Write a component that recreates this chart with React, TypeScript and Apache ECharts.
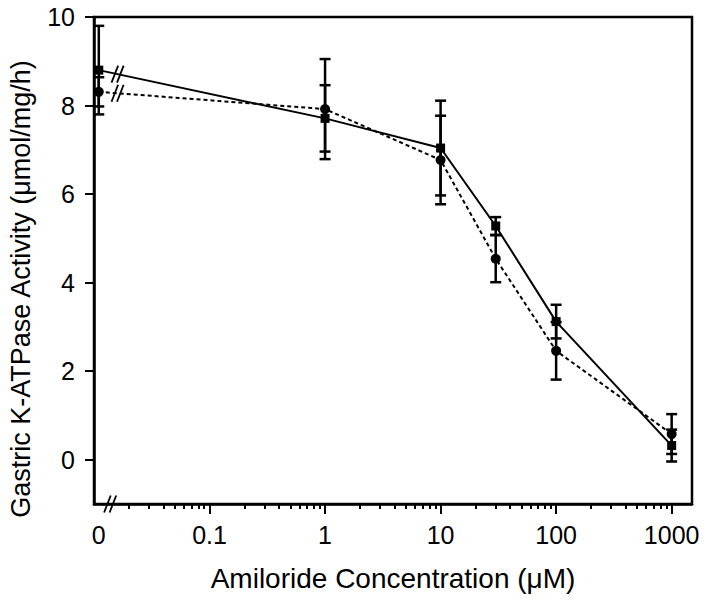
import React, { useEffect, useRef } from "react";
import * as echarts from "echarts";

// Amiloride concentration (µM); 0 is the control, drawn at ZERO_POS on the log axis
const CONC = [0, 1, 10, 30, 100, 1000];
const ZERO_POS = 0.011;
// Series drawn with squares and a solid line
const SQUARE_MEAN = [8.8, 7.71, 7.04, 5.28, 3.12, 0.32];
const SQUARE_ERR = [1.0, 0.75, 1.07, 0.2, 0.38, 0.36];
// Series drawn with circles and a dashed line
const CIRCLE_MEAN = [8.31, 7.92, 6.77, 4.54, 2.46, 0.58];
const CIRCLE_ERR = [0.33, 1.13, 1.0, 0.53, 0.65, 0.45];

const X_MIN = 0.01;
const X_MAX = 1500;
const Y_MIN = -1;
const Y_MAX = 10;
const X_LABELS = [ZERO_POS, 0.1, 1, 10, 100, 1000];
const X_MAJOR_TICKS = [0.1, 1, 10, 100, 1000];
const X_MINOR_TICKS = [
  0.02, 0.03, 0.04, 0.05, 0.06, 0.07, 0.08, 0.09,
  0.2, 0.3, 0.4, 0.5, 0.6, 0.7, 0.8, 0.9,
  2, 3, 4, 5, 6, 7, 8, 9,
  20, 30, 40, 50, 60, 70, 80, 90,
  200, 300, 400, 500, 600, 700, 800, 900,
];
const Y_TICKS = [0, 2, 4, 6, 8, 10];
const LINE_BREAK_X = 0.016;
const AXIS_BREAK_X = 0.0138;

const X_TITLE = "Amiloride Concentration (\u03bcM)";
const Y_TITLE = "Gastric K-ATPase Activity (\u03bcmol/mg/h)";

const FONT = "'Liberation Sans', Arial, sans-serif";
const BLACK = "#000";

const xPos = (c: number) => (c === 0 ? ZERO_POS : c);

function slashPair(cx: number, cy: number, lw: number) {
  const hw = 3.3;
  const hh = 8.5;
  const gap = 5.5;
  const style = { stroke: BLACK, lineWidth: lw };
  return [-gap / 2, gap / 2].map((d) => ({
    type: "line",
    shape: { x1: cx + d - hw, y1: cy + hh, x2: cx + d + hw, y2: cy - hh },
    style,
  }));
}

export default function App() {
  const ref = useRef<HTMLDivElement>(null);

  useEffect(() => {
    if (!ref.current) return;
    const chart = echarts.init(ref.current, null, { renderer: "svg" });

    const squareData = CONC.map((c, i) => [xPos(c), SQUARE_MEAN[i]]);
    const circleData = CONC.map((c, i) => [xPos(c), CIRCLE_MEAN[i]]);
    const squareErr = CONC.map((c, i) => [xPos(c), SQUARE_MEAN[i] - SQUARE_ERR[i], SQUARE_MEAN[i] + SQUARE_ERR[i]]);
    const circleErr = CONC.map((c, i) => [xPos(c), CIRCLE_MEAN[i] - CIRCLE_ERR[i], CIRCLE_MEAN[i] + CIRCLE_ERR[i]]);

    const errorRender = (params: any, api: any) => {
      const x = api.value(0);
      const lo = api.coord([x, api.value(1)]);
      const hi = api.coord([x, api.value(2)]);
      const hw = 5.5;
      const style = { stroke: BLACK, lineWidth: 2.5 };
      return {
        type: "group",
        children: [
          { type: "line", shape: { x1: lo[0], y1: lo[1], x2: hi[0], y2: hi[1] }, style },
          { type: "line", shape: { x1: lo[0] - hw, y1: lo[1], x2: lo[0] + hw, y2: lo[1] }, style },
          { type: "line", shape: { x1: hi[0] - hw, y1: hi[1], x2: hi[0] + hw, y2: hi[1] }, style },
        ],
      };
    };

    // break marks: 0 = solid line, 1 = dashed line, 2 = x axis
    const breakRender = (params: any, api: any) => {
      const kind = params.dataIndex;
      if (kind === 2) {
        const p = api.coord([AXIS_BREAK_X, Y_MIN]);
        return { type: "group", children: slashPair(p[0], p[1], 1.8) };
      }
      const means = kind === 0 ? SQUARE_MEAN : CIRCLE_MEAN;
      const p0 = api.coord([xPos(CONC[0]), means[0]]);
      const p1 = api.coord([xPos(CONC[1]), means[1]]);
      const pb = api.coord([LINE_BREAK_X, means[0]]);
      const y = p0[1] + ((pb[0] - p0[0]) / (p1[0] - p0[0])) * (p1[1] - p0[1]);
      return { type: "group", children: slashPair(pb[0], y, 1.8) };
    };

    const option: any = {
      animation: false,
      backgroundColor: "#fff",
      textStyle: { fontFamily: FONT },
      grid: {
        left: 94,
        right: 16,
        top: 17,
        bottom: 97,
        show: true,
        borderColor: BLACK,
        borderWidth: 2.5,
        backgroundColor: "transparent",
      },
      graphic: [
        {
          type: "text",
          x: 21,
          y: 289,
          rotation: Math.PI / 2,
          style: {
            text: Y_TITLE,
            fontSize: 27,
            fontFamily: FONT,
            fill: BLACK,
            align: "center",
            verticalAlign: "middle",
          },
        },
      ],
      xAxis: [
        {
          type: "log",
          logBase: 10,
          min: X_MIN,
          max: X_MAX,
          position: "bottom",
          name: X_TITLE,
          nameLocation: "middle",
          nameGap: 60,
          nameTextStyle: { fontSize: 28, color: BLACK, fontFamily: FONT },
          axisLine: { show: true, onZero: false, lineStyle: { color: BLACK, width: 2.5 } },
          axisTick: {
            show: true,
            length: 10,
            customValues: X_MAJOR_TICKS,
            lineStyle: { color: BLACK, width: 2 },
          },
          axisLabel: {
            show: true,
            customValues: X_LABELS,
            margin: 18,
            fontSize: 25,
            color: BLACK,
            fontFamily: FONT,
            formatter: (v: number) => (v < 0.05 ? "0" : String(v)),
          },
          splitLine: { show: false },
          minorTick: { show: false },
        },
        {
          type: "log",
          logBase: 10,
          min: X_MIN,
          max: X_MAX,
          position: "bottom",
          axisLine: { show: false, onZero: false },
          axisTick: {
            show: true,
            length: 5,
            customValues: X_MINOR_TICKS,
            lineStyle: { color: BLACK, width: 2 },
          },
          axisLabel: { show: false },
          splitLine: { show: false },
        },
      ],
      yAxis: {
        type: "value",
        min: Y_MIN,
        max: Y_MAX,
        axisLine: { show: true, onZero: false, lineStyle: { color: BLACK, width: 2.5 } },
        axisTick: {
          show: true,
          length: 9,
          customValues: Y_TICKS,
          lineStyle: { color: BLACK, width: 2 },
        },
        axisLabel: {
          show: true,
          customValues: Y_TICKS,
          margin: 19,
          fontSize: 25,
          color: BLACK,
          fontFamily: FONT,
        },
        splitLine: { show: false },
      },
      series: [
        {
          type: "custom",
          name: "square-err",
          xAxisIndex: 0,
          renderItem: errorRender,
          data: squareErr,
          encode: { x: 0, y: [1, 2] },
          z: 2,
          silent: true,
        },
        {
          type: "custom",
          name: "circle-err",
          xAxisIndex: 0,
          renderItem: errorRender,
          data: circleErr,
          encode: { x: 0, y: [1, 2] },
          z: 2,
          silent: true,
        },
        {
          type: "line",
          name: "circles",
          xAxisIndex: 0,
          data: circleData,
          symbol: "circle",
          symbolSize: 10,
          showSymbol: true,
          lineStyle: { color: BLACK, width: 2, type: [4, 3] },
          itemStyle: { color: BLACK },
          z: 3,
        },
        {
          type: "line",
          name: "squares",
          xAxisIndex: 0,
          data: squareData,
          symbol: "rect",
          symbolSize: 9,
          showSymbol: true,
          lineStyle: { color: BLACK, width: 2 },
          itemStyle: { color: BLACK },
          z: 4,
        },
        {
          type: "custom",
          name: "breaks",
          xAxisIndex: 0,
          renderItem: breakRender,
          data: [[LINE_BREAK_X, SQUARE_MEAN[0]], [LINE_BREAK_X, CIRCLE_MEAN[0]], [AXIS_BREAK_X, Y_MIN]],
          clip: false,
          z: 5,
          silent: true,
        },
      ],
    };

    chart.setOption(option);
    return () => chart.dispose();
  }, []);

  return <div ref={ref} style={{ width: 708, height: 601, marginLeft: -8, marginTop: -8 }} />;
}
